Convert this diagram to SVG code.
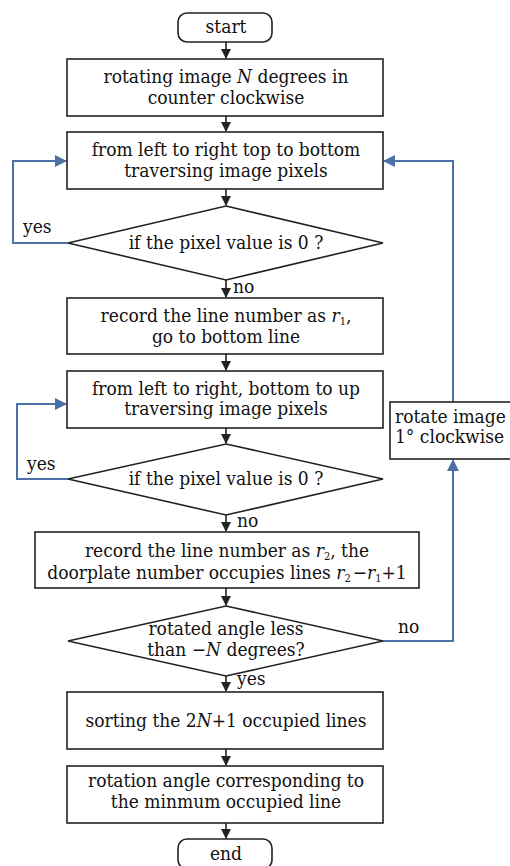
<svg xmlns="http://www.w3.org/2000/svg" width="510" height="866" viewBox="0 0 510 866">
<style>
.b{fill:#fff;stroke:#222;stroke-width:1.6}
.t{font-family:"DejaVu Serif","Liberation Serif",serif;font-stretch:condensed;font-size:19px;fill:#111;text-anchor:middle}
.l{font-family:"DejaVu Serif","Liberation Serif",serif;font-stretch:condensed;font-size:19px;fill:#111}
.k{fill:none;stroke:#222;stroke-width:1.6}
.u{fill:none;stroke:#4a72a6;stroke-width:2}
.i{font-style:italic}
.s{font-size:11px}
</style>
<defs>
<marker id="ak" markerWidth="10" markerHeight="10" refX="9" refY="5" orient="auto" markerUnits="userSpaceOnUse"><path d="M0,0 L10,5 L0,10 Z" fill="#222"/></marker>
<marker id="au" markerWidth="12" markerHeight="12" refX="11" refY="6" orient="auto" markerUnits="userSpaceOnUse"><path d="M0,0 L12,6 L0,12 Z" fill="#4a72a6"/></marker>
</defs>
<rect width="510" height="866" fill="#fff"/>
<g id="connectors">
<line class="k" x1="226" y1="42" x2="226" y2="58" marker-end="url(#ak)"/>
<line class="k" x1="226" y1="116" x2="226" y2="131" marker-end="url(#ak)"/>
<line class="k" x1="226" y1="189" x2="226" y2="205" marker-end="url(#ak)"/>
<line class="k" x1="226" y1="280" x2="226" y2="297" marker-end="url(#ak)"/>
<line class="k" x1="226" y1="354" x2="226" y2="370" marker-end="url(#ak)"/>
<line class="k" x1="226" y1="428" x2="226" y2="443" marker-end="url(#ak)"/>
<line class="k" x1="226" y1="515" x2="226" y2="531" marker-end="url(#ak)"/>
<line class="k" x1="226" y1="588" x2="226" y2="605" marker-end="url(#ak)"/>
<line class="k" x1="226" y1="676" x2="226" y2="691" marker-end="url(#ak)"/>
<line class="k" x1="226" y1="749" x2="226" y2="765" marker-end="url(#ak)"/>
<line class="k" x1="226" y1="823" x2="226" y2="838" marker-end="url(#ak)"/>
<polyline class="u" points="68,243 13,243 13,161 66,161" marker-end="url(#au)"/>
<polyline class="u" points="68,479 17,479 17,404 66,404" marker-end="url(#au)"/>
<polyline class="u" points="383,641 453,641 453,460" marker-end="url(#au)"/>
<polyline class="u" points="453,402 453,161 384,161" marker-end="url(#au)"/>
<text class="l" x="23" y="233">yes</text>
<text class="l" x="233" y="293">no</text>
<text class="l" x="27" y="470">yes</text>
<text class="l" x="237" y="527">no</text>
<text class="l" x="398" y="633">no</text>
<text class="l" x="237" y="685">yes</text>
</g>
<g id="start"><rect class="b" x="178" y="13" width="94" height="29" rx="9"/><text class="t" x="226" y="33">start</text></g>
<g id="rotateN"><rect class="b" x="67" y="59" width="316" height="57"/><text class="t" x="226" y="83">rotating image <tspan class="i">N</tspan> degrees in</text><text class="t" x="226" y="104">counter clockwise</text></g>
<g id="traverse1"><rect class="b" x="67" y="132" width="316" height="57"/><text class="t" x="226" y="156">from left to right top to bottom</text><text class="t" x="226" y="177">traversing image pixels</text></g>
<g id="cond1"><polygon class="b" points="226,206 383,243 226,280 68,243"/><text class="t" x="226" y="249">if  the pixel value is 0 ?</text></g>
<g id="record1"><rect class="b" x="67" y="298" width="316" height="56"/><text class="t" x="226" y="322">record the line number as <tspan class="i">r</tspan><tspan class="s" dy="3">1</tspan><tspan dy="-3">,</tspan></text><text class="t" x="226" y="343">go to bottom line</text></g>
<g id="traverse2"><rect class="b" x="67" y="371" width="316" height="57"/><text class="t" x="226" y="395">from left to right, bottom to up</text><text class="t" x="226" y="415">traversing image pixels</text></g>
<g id="cond2"><polygon class="b" points="226,444 383,479 226,515 68,479"/><text class="t" x="226" y="485">if  the pixel value is 0 ?</text></g>
<g id="record2"><rect class="b" x="35" y="532" width="384" height="56"/><text class="t" x="227" y="557">record the line number as <tspan class="i">r</tspan><tspan class="s" dy="3">2</tspan><tspan dy="-3">, the</tspan></text><text class="t" x="227" y="579">doorplate number occupies lines <tspan class="i">r</tspan><tspan class="s" dy="3">2</tspan><tspan dy="-3" dx="2">−</tspan><tspan class="i">r</tspan><tspan class="s" dy="3">1</tspan><tspan dy="-3">+1</tspan></text></g>
<g id="rotate1"><rect class="b" x="390" y="402" width="125" height="57"/><text class="l" x="395" y="423">rotate image</text><text class="l" x="395" y="443">1°  clockwise</text></g>
<g id="cond3"><polygon class="b" points="226,606 383,641 226,676 68,641"/><text class="t" x="226" y="635">rotated angle less</text><text class="t" x="226" y="656">than −<tspan class="i">N</tspan> degrees?</text></g>
<g id="sort"><rect class="b" x="67" y="692" width="316" height="57"/><text class="t" x="226" y="727">sorting the 2<tspan class="i">N</tspan>+1 occupied lines</text></g>
<g id="result"><rect class="b" x="67" y="766" width="316" height="57"/><text class="t" x="226" y="787">rotation angle corresponding to</text><text class="t" x="226" y="808">the minmum occupied line</text></g>
<g id="end"><rect class="b" x="178" y="839" width="94" height="30" rx="9"/><text class="t" x="226" y="860">end</text></g>
</svg>
